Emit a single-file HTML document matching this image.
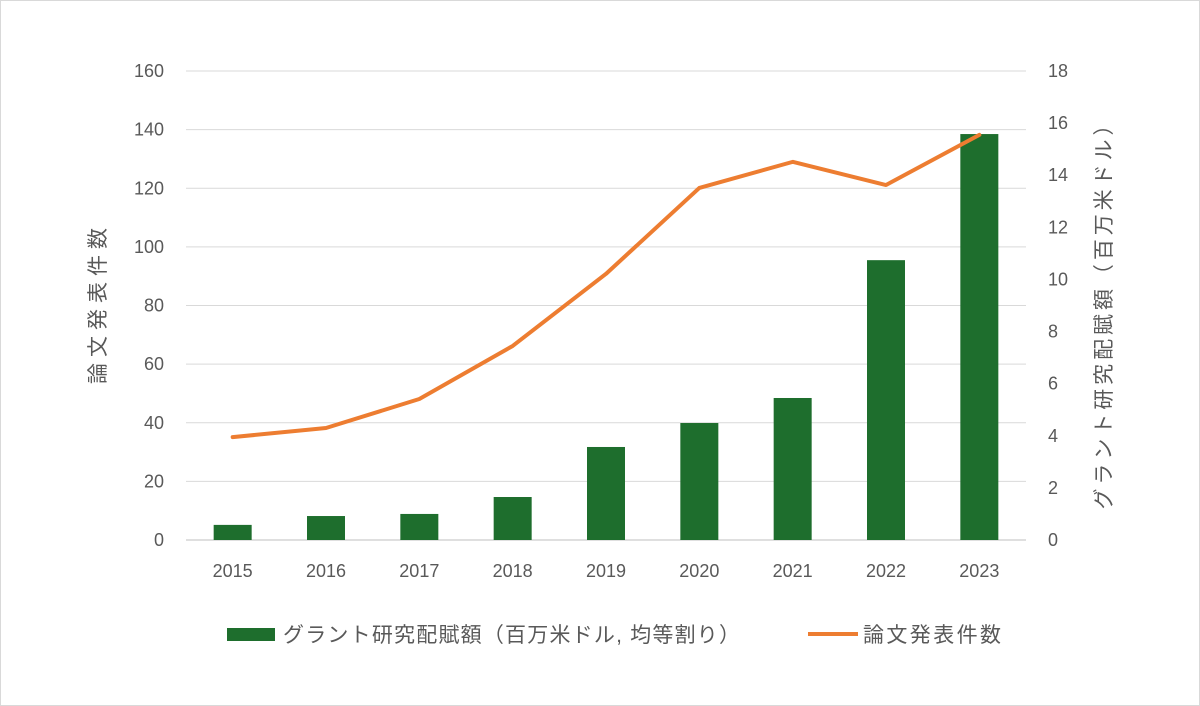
<!DOCTYPE html>
<html><head><meta charset="utf-8"><style>
html,body{margin:0;padding:0;background:#fff}
svg{display:block;font-family:"Liberation Sans","Noto Sans CJK JP",sans-serif}
</style></head><body>
<svg id="chart" width="1200" height="706" viewBox="0 0 1200 706">
<rect x="0.5" y="0.5" width="1199" height="705" fill="#fff" stroke="#d9d9d9"/>
<g id="grid"></g><g id="bars"></g><g id="line"></g><g id="axes"></g>
<text transform="translate(105,306) rotate(-90)" text-anchor="middle" font-size="21" fill="#595959" textLength="156" lengthAdjust="spacing">論文発表件数</text>
<text transform="translate(1111,312) rotate(-90)" text-anchor="middle" font-size="21" fill="#595959" textLength="395" lengthAdjust="spacing">グラント研究配賦額（百万米ドル）</text>
<g>
<rect x="227" y="628" width="48" height="13" fill="#1e6e2d"/>
<text x="283" y="642" font-size="21" fill="#595959" textLength="457" lengthAdjust="spacing">グラント研究配賦額（百万米ドル, 均等割り）</text>
<line x1="808" y1="634" x2="858" y2="634" stroke="#ed7d31" stroke-width="4"/>
<text x="863" y="642" font-size="21" fill="#595959" textLength="138" lengthAdjust="spacing">論文発表件数</text>
</g>
</svg>
<script>
const categories=["2015","2016","2017","2018","2019","2020","2021","2022","2023"];
const grantValues=[0.58,0.92,1.0,1.65,3.57,4.49,5.45,10.74,15.58];
const paperValues=[35.1,38.2,48.1,66.2,90.8,120.1,129,121.1,138.2];
const leftTicks=[0,20,40,60,80,100,120,140,160];
const rightTicks=[0,2,4,6,8,10,12,14,16,18];
const NS="http://www.w3.org/2000/svg";
const X0=186,X1=1026,Y0=540,Y1=71;
const band=(X1-X0)/categories.length;
const xC=i=>X0+band*(i+0.5);
const yL=v=>Y0-(v/160)*(Y0-Y1);
const yR=v=>Y0-(v/18)*(Y0-Y1);
function mk(tag,attrs,parent){const e=document.createElementNS(NS,tag);for(const k in attrs)e.setAttribute(k,attrs[k]);parent.appendChild(e);return e;}
const grid=document.getElementById('grid'),axes=document.getElementById('axes');
leftTicks.forEach(t=>{
 const l=mk('line',{x1:X0,x2:X1,y1:yL(t),y2:yL(t),stroke:t===0?'#bfbfbf':'#d9d9d9','stroke-width':1},grid);
 
 
 const tx=mk('text',{x:164,y:yL(t)+6,'text-anchor':'end','font-size':18,fill:'#595959'},axes);
 tx.textContent=t;
 
 
});
rightTicks.forEach(t=>{
 const tx=mk('text',{x:1048,y:yR(t)+6,'text-anchor':'start','font-size':18,fill:'#595959'},axes);
 tx.textContent=t;
 
 
});
categories.forEach((c,i)=>{
 const tx=mk('text',{x:xC(i),y:577,'text-anchor':'middle','font-size':18,fill:'#595959'},axes);
 tx.textContent=c;
 
 
});
const bars=document.getElementById('bars');
grantValues.forEach((v,i)=>{
 const r=mk('rect',{x:xC(i)-19,y:yR(v),width:38,height:Y0-yR(v),fill:'#1e6e2d'},bars);
 
 
});
const pts=paperValues.map((v,i)=>xC(i)+','+yL(v)).join(' ');
const pl=mk('polyline',{points:pts,fill:'none',stroke:'#ed7d31','stroke-width':4,'stroke-linejoin':'round','stroke-linecap':'round'},document.getElementById('line'));


</script>
</body></html>
